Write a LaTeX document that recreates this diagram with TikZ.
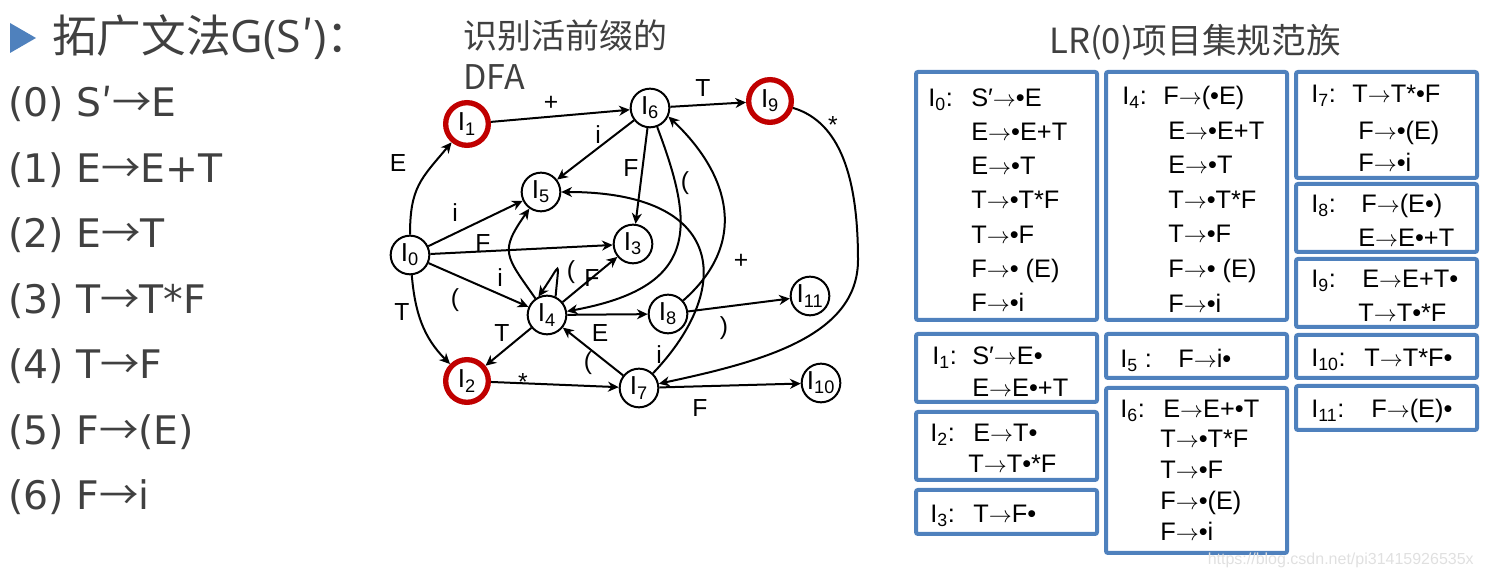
\documentclass[tikz,border=0pt]{standalone}
\usepackage{fontspec}
\setmainfont{Liberation Sans}
\newfontfamily\cjk{Noto Sans CJK SC}
\newfontfamily\latn{Open Sans}
\newfontfamily\wide{DejaVu Sans}
\usetikzlibrary{arrows.meta}

\definecolor{dfared}{HTML}{C00000}
\definecolor{itemblue}{HTML}{4F81BD}
\definecolor{textgray}{HTML}{404040}

\newcommand{\tto}{\ensuremath{\rightarrow}}
\newcommand{\gto}{{\cjk →}}
\newcommand{\gpr}{{\cjk ′}}

\tikzset{
  state/.style={circle,draw,line width=1.5pt,minimum size=29pt,inner sep=0pt,
    font=\fontsize{19.5}{19.5}\selectfont},
  accept/.style={state,draw=dfared,line width=4pt,minimum size=32pt},
  trans/.style={line width=1.5pt,-{Stealth[length=8pt,width=7.5pt,inset=2.5pt]}},
  lbl/.style={font=\fontsize{18.5}{18.5}\selectfont,inner sep=0pt},
  itembox/.style={draw=itemblue,line width=3pt,rounded corners=1.5pt},
  item/.style={font=\fontsize{19}{19}\selectfont,anchor=west,inner sep=0pt,
    text height=13.6pt,text depth=0pt},
  gram/.style={font=\wide\fontsize{29.5}{29.5}\selectfont,text=textgray,
    anchor=base west,inner sep=0pt},
}

\begin{document}
\begin{tikzpicture}[x=0.75pt,y=0.75pt]
  \useasboundingbox (0,0) rectangle (1486,577);

  % grammar
  \fill[itemblue] (10,554) -- (10,524) -- (36,539) -- cycle;
  \node[gram,font=\latn\fontsize{33.5}{33.5}\selectfont] (title) at (52,524)
    {{\cjk 拓广文法}G(S\gpr){\cjk ：}};
  \node[gram] (g0) at (8,460) {(0) S\gpr\gto E};
  \node[gram] (g1) at (8,394) {(1) E\gto E+T};
  \node[gram] (g2) at (8,329) {(2) E\gto T};
  \node[gram] (g3) at (8,263) {(3) T\gto T*F};
  \node[gram] (g4) at (8,198) {(4) T\gto F};
  \node[gram] (g5) at (8,132) {(5) F\gto (E)};
  \node[gram] (g6) at (8,67) {(6) F\gto i};

  % DFA
  \node[gram,font=\cjk\fontsize{25.5}{30.75}\selectfont,align=left] (dfat) at (463,487)
    {识别活前缀的\\DFA};
  \node[state] (I0) at (410,322) {I\textsubscript{0}};
  \node[accept] (I1) at (467,453) {I\textsubscript{1}};
  \node[accept] (I2) at (467,196) {I\textsubscript{2}};
  \node[state] (I3) at (633,333) {I\textsubscript{3}};
  \node[state] (I4) at (547,262) {I\textsubscript{4}};
  \node[state] (I5) at (541,385) {I\textsubscript{5}};
  \node[state] (I6) at (650,469) {I\textsubscript{6}};
  \node[state] (I7) at (639,189) {I\textsubscript{7}};
  \node[state] (I8) at (668,263) {I\textsubscript{8}};
  \node[accept] (I9) at (770,476) {I\textsubscript{9}};
  \node[state] (I10) at (821,194) {I\textsubscript{10}};
  \node[state] (I11) at (810,281) {I\textsubscript{11}};

  \draw[trans] (I0) to[out=90,in=230,looseness=1.2] (I1);
  \draw[trans] (I0) -- (I5);
  \draw[trans] (I0) -- (I3);
  \draw[trans] (I0) -- (I4);
  \draw[trans] (I0) to[out=-85,in=135] (I2);
  \draw[trans] (I1) -- (I6);
  \draw[trans] (I6) -- (I5);
  \draw[trans] (I6) -- (I3);
  \draw[trans] (I6) .. controls (695,350) and (700,290) .. (I4);
  \draw[trans] (I6) -- (I9);
  \coordinate (turn9) at (858,317);
  \draw[trans] (I9) .. controls (840,455) and (858,400) .. (turn9)
    .. controls (858,240) and (760,215) .. (I7);
  \draw[trans] (I4.65) .. controls +(85:40) and +(55:40) .. (I4.115);
  \draw[trans] (I4) -- (I3);
  \draw[trans] (I4) to[out=125,in=235,looseness=1.5] (I5);
  \draw[trans] (I4) -- (I2);
  \draw[trans] (I4) -- (I8);
  \draw[trans] (I7) -- (I4);
  \draw[trans] (I7) .. controls (735,290) and (725,385) .. (I5);
  \draw[trans] (I8) .. controls (755,340) and (722,410) .. (I6.-25);
  \draw[trans] (I8) -- (I11);
  \draw[trans] (I2) -- (I7);
  \draw[trans] (I7) -- (I10);

  \node[lbl] (l01) at (398,414) {E};
  \node[lbl] (l05) at (455,364) {i};
  \node[lbl] (l03) at (483,334) {F};
  \node[lbl] (l04) at (455,277) {(};
  \node[lbl] (l02) at (402,265) {T};
  \node[lbl] (l16) at (551,474) {+};
  \node[lbl] (l65) at (598,442) {i};
  \node[lbl] (l63) at (631,409) {F};
  \node[lbl] (l64) at (685,394) {(};
  \node[lbl] (l69) at (703,489) {T};
  \node[lbl] (l97) at (833,452) {*};
  \node[lbl] (l44) at (571,305) {(};
  \node[lbl] (l43) at (592,299) {F};
  \node[lbl] (l45) at (500,299) {i};
  \node[lbl] (l42) at (502,244) {T};
  \node[lbl] (l48) at (600,244) {E};
  \node[lbl] (l74) at (588,214) {(};
  \node[lbl] (l75) at (659,222) {i};
  \node[lbl] (l86) at (741,316) {+};
  \node[lbl] (l811) at (724,249) {)};
  \node[lbl] (l27) at (523,195) {*};
  \node[lbl] (l710) at (700,169) {F};

  % item sets
  \node[gram,font=\cjk\fontsize{26}{26}\selectfont,anchor=center] (sett) at (1195,535)
    {LR(0)项目集规范族};

  \draw[itembox] (916,505) rectangle (1097,257);
  \node[item] (h0) at (928,480) {I\textsubscript{0}:};
  \foreach \t [count=\k] in {S′\tto•E, E\tto•E+T, E\tto•T, T\tto•T*F, T\tto•F,
      F\tto• (E), F\tto•i}
    \node[item] (p0-\k) at (971,{480-34.3*(\k-1)}) {\t};

  \draw[itembox] (1106,505) rectangle (1287,257);
  \node[item] (h4) at (1122,482) {I\textsubscript{4}:};
  \node[item] (p4-1) at (1163,482) {F\tto(•E)};
  \foreach \t [count=\k] in {E\tto•E+T, E\tto•T, T\tto•T*F, T\tto•F, F\tto• (E),
      F\tto•i}
    \node[item] (p4-\k b) at (1168,{447-34.6*(\k-1)}) {\t};

  \draw[itembox] (1296,505) rectangle (1477,399);
  \node[item] (h7) at (1311,484) {I\textsubscript{7}:};
  \node[item] (p7-1) at (1352,484) {T\tto T*•F};
  \node[item] (p7-2) at (1358,447) {F\tto•(E)};
  \node[item] (p7-3) at (1358,415) {F\tto•i};

  \draw[itembox] (1296,393) rectangle (1477,325);
  \node[item] (h8) at (1311,374) {I\textsubscript{8}:};
  \node[item] (p8-1) at (1361,374) {F\tto(E•)};
  \node[item] (p8-2) at (1358,340) {E\tto E•+T};

  \draw[itembox] (1296,318) rectangle (1477,250);
  \node[item] (h9) at (1311,299) {I\textsubscript{9}:};
  \node[item] (p9-1) at (1362,299) {E\tto E+T•};
  \node[item] (p9-2) at (1358,265) {T\tto T•*F};

  \draw[itembox] (1296,242) rectangle (1477,199);
  \node[item] (h10) at (1311,220) {I\textsubscript{10}:};
  \node[item] (p10) at (1364,220) {T\tto T*F•};

  \draw[itembox] (1296,191) rectangle (1477,147);
  \node[item] (h11) at (1311,169) {I\textsubscript{11}:};
  \node[item] (p11) at (1371,169) {F\tto(E)•};

  \draw[itembox] (916,243) rectangle (1097,175);
  \node[item] (h1) at (932,222) {I\textsubscript{1}:};
  \node[item] (p1-1) at (972,222) {S′\tto E•};
  \node[item] (p1-2) at (972,190) {E\tto E•+T};

  \draw[itembox] (1106,243) rectangle (1287,199);
  \node[item] (h5) at (1120,219) {I\textsubscript{5} :};
  \node[item] (p5) at (1178,219) {F\tto i•};

  \draw[itembox] (916,165) rectangle (1097,97);
  \node[item] (h2) at (930,145) {I\textsubscript{2}:};
  \node[item] (p2-1) at (973,145) {E\tto T•};
  \node[item] (p2-2) at (968,114) {T\tto T•*F};

  \draw[itembox] (916,87) rectangle (1097,43);
  \node[item] (h3) at (930,64) {I\textsubscript{3}:};
  \node[item] (p3) at (973,64) {T\tto F•};

  \draw[itembox] (1106,189) rectangle (1287,24);
  \node[item] (h6) at (1120,169) {I\textsubscript{6}:};
  \node[item] (p6-1) at (1163,169) {E\tto E+•T};
  \foreach \t [count=\k] in {T\tto•T*F, T\tto•F, F\tto•(E), F\tto•i}
    \node[item] (p6-\k b) at (1160,{139-31.3*(\k-1)}) {\t};

  \node[font=\fontsize{12}{12}\selectfont,text=black!12,anchor=base east,inner sep=0pt]
    (wm) at (1474,12) {https://blog.csdn.net/pi31415926535x};
\end{tikzpicture}
\end{document}
